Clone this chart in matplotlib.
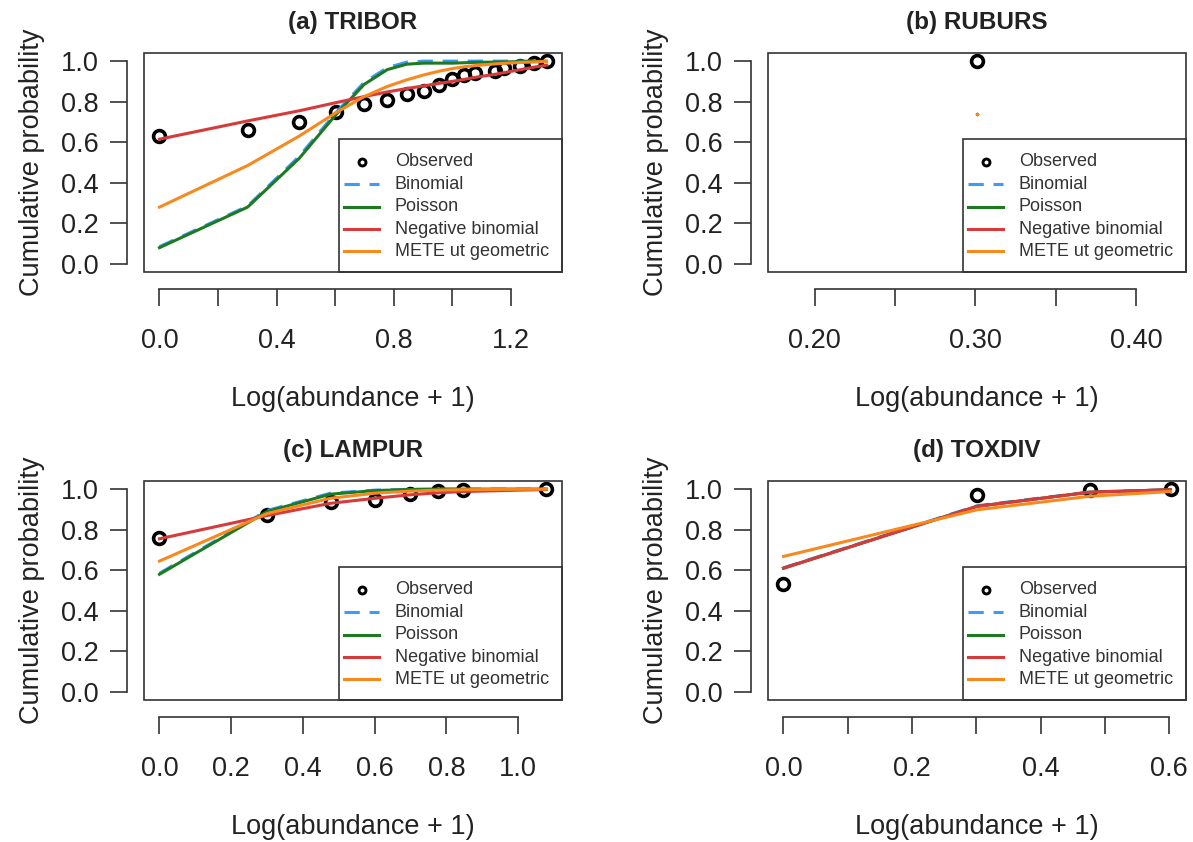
import matplotlib.pyplot as plt
from matplotlib.patches import Rectangle

plt.rcParams['font.family'] = ['Liberation Sans', 'DejaVu Sans']

# (a) TRIBOR
tribor_x = [0.000, 0.301, 0.477, 0.602, 0.699, 0.778, 0.845, 0.903, 0.954, 1.000,
            1.041, 1.079, 1.146, 1.176, 1.230, 1.279, 1.322]
tribor_obs = [0.63, 0.66, 0.70, 0.75, 0.79, 0.81, 0.84, 0.855, 0.88, 0.91,
              0.93, 0.94, 0.95, 0.965, 0.975, 0.99, 1.0]
tribor_binom = [0.085, 0.285, 0.53, 0.745, 0.895, 0.968, 0.995, 1.0, 1.0, 1.0,
                1.0, 1.0, 1.0, 1.0, 1.0, 1.0, 1.0]
tribor_pois = [0.08, 0.28, 0.52, 0.735, 0.885, 0.958, 0.985, 0.99, 0.99, 0.99,
               0.992, 0.994, 0.995, 0.996, 0.997, 0.998, 0.999]
tribor_nb = [0.615, 0.705, 0.755, 0.795, 0.825, 0.848, 0.865, 0.878, 0.89, 0.90,
             0.91, 0.92, 0.935, 0.943, 0.957, 0.97, 0.98]
tribor_mete = [0.28, 0.485, 0.63, 0.745, 0.825, 0.875, 0.908, 0.932, 0.95, 0.963,
               0.972, 0.978, 0.986, 0.989, 0.993, 0.996, 0.998]

# (b) RUBURS
ruburs_x = [0.301]
ruburs_obs = [1.0]
ruburs_binom = [0.74]
ruburs_pois = [0.74]
ruburs_nb = [0.74]
ruburs_mete = [0.74]

# (c) LAMPUR
lampur_x = [0.000, 0.301, 0.477, 0.602, 0.699, 0.778, 0.845, 1.079]
lampur_obs = [0.76, 0.87, 0.935, 0.945, 0.975, 0.99, 0.995, 1.0]
lampur_binom = [0.585, 0.895, 0.98, 0.995, 0.999, 1.0, 1.0, 1.0]
lampur_pois = [0.58, 0.89, 0.975, 0.993, 0.998, 1.0, 1.0, 1.0]
lampur_nb = [0.755, 0.87, 0.93, 0.955, 0.972, 0.982, 0.988, 0.998]
lampur_mete = [0.645, 0.88, 0.955, 0.98, 0.99, 0.995, 0.997, 1.0]

# (d) TOXDIV
toxdiv_x = [0.000, 0.301, 0.477, 0.602]
toxdiv_obs = [0.53, 0.97, 0.995, 1.0]
toxdiv_binom = [0.612, 0.918, 0.986, 0.997]
toxdiv_pois = [0.61, 0.915, 0.985, 0.997]
toxdiv_nb = [0.61, 0.915, 0.985, 0.997]
toxdiv_mete = [0.668, 0.898, 0.965, 0.988]

legend_labels = ['Observed', 'Binomial', 'Poisson', 'Negative binomial', 'METE ut geometric']
col_binom = '#3D9BF5'
col_pois = '#1E7A22'
col_nb = '#D63A3A'
col_mete = '#F7891E'
axcol = '#333333'

W, H = 1193, 842
fig = plt.figure(figsize=(W / 100, H / 100), dpi=100)

# axes boxes in pixels (left, top), all the same size
boxes = [(144, 53), (768, 53), (144, 481), (768, 481)]
bw, bh = 418, 219


def draw_legend(ax):
    # legend frame, pixel offsets from the box's bottom-left
    lx0, ltop = 195, 133
    def fx(px):
        return px / bw
    def fy(py):
        return (ltop - py) / bh
    ax.add_patch(Rectangle((fx(lx0), 0), fx(bw - lx0), fy(0), transform=ax.transAxes,
                           fill=False, ec=axcol, lw=1.2, clip_on=False, zorder=5))
    rows = [23, 45.3, 67.6, 90, 112.2]
    x1, x2, xt = lx0 + 5, lx0 + 40, lx0 + 56
    ax.plot([fx(lx0 + 23)], [fy(rows[0])], 'o', mfc='none', mec='black', ms=5, mew=2.1,
            transform=ax.transAxes, clip_on=False)
    specs = [(col_binom, (0, (5, 3.2))), (col_pois, '-'), (col_nb, '-'), (col_mete, '-')]
    for r, (c, ls) in zip(rows[1:], specs):
        ax.plot([fx(x1), fx(x2)], [fy(r), fy(r)], color=c, ls=ls, lw=2.2,
                transform=ax.transAxes, clip_on=False)
    for r, lab in zip(rows, legend_labels):
        ax.text(fx(xt), fy(r), lab, transform=ax.transAxes, fontsize=13,
                color='#333333', va='center', ha='left')


def draw_panel(box, title, x, obs, binom, pois, nb, mete, xlim, xticks, xticklabels):
    left, top = box
    ax = fig.add_axes([left / W, 1 - (top + bh) / H, bw / W, bh / H])
    ax.plot(x, obs, 'o', mfc='none', mec='black', ms=8.5, mew=2.6, zorder=2)
    if len(x) > 1:
        ax.plot(x, binom, color=col_binom, lw=2.2, dashes=(5, 3.2), zorder=3)
        ax.plot(x, pois, color=col_pois, lw=2.2, zorder=3)
        ax.plot(x, nb, color=col_nb, lw=2.2, zorder=3)
        ax.plot(x, mete, color=col_mete, lw=2.2, zorder=3)
    else:
        # one point only: the model curves collapse to a dot
        for vals, c in [(binom, col_binom), (pois, col_pois), (nb, col_nb), (mete, col_mete)]:
            ax.plot(x, vals, 'o', color=c, ms=2.4, mew=0, zorder=3)
    ax.set_xlim(*xlim)
    ax.set_ylim(-0.04, 1.04)
    ax.add_patch(Rectangle((0, 0), 1, 1, transform=ax.transAxes, fill=False,
                           ec=axcol, lw=1.2, clip_on=False, zorder=5))
    for s in ['top', 'right']:
        ax.spines[s].set_visible(False)
    for s in ['left', 'bottom']:
        ax.spines[s].set_position(('outward', 12.2))
        ax.spines[s].set_color(axcol)
        ax.spines[s].set_linewidth(1.2)
    ax.spines['left'].set_bounds(0, 1)
    ax.spines['bottom'].set_bounds(xticks[0], xticks[-1])
    ax.set_yticks([0, 0.2, 0.4, 0.6, 0.8, 1.0])
    ax.set_yticklabels(['0.0', '0.2', '0.4', '0.6', '0.8', '1.0'])
    ax.set_xticks(xticks)
    ax.set_xticklabels(xticklabels)
    ax.tick_params(direction='out', length=12.2, width=1.2, color=axcol,
                   labelsize=19.5, labelcolor='#222222')
    ax.tick_params(axis='y', pad=8.5)
    ax.tick_params(axis='x', pad=16)
    ax.set_xlabel('Log(abundance + 1)', fontsize=19.5, color='#222222', labelpad=23)
    ax.set_ylabel('Cumulative probability', fontsize=19.5, color='#222222', labelpad=11)
    ax.set_title(title, fontsize=17.5, fontweight='bold', color='#222222', pad=17)
    draw_legend(ax)
    return ax


draw_panel(boxes[0], '(a) TRIBOR', tribor_x, tribor_obs, tribor_binom, tribor_pois,
           tribor_nb, tribor_mete, (-0.0529, 1.3749),
           [0, 0.2, 0.4, 0.6, 0.8, 1.0, 1.2], ['0.0', '', '0.4', '', '0.8', '', '1.2'])
draw_panel(boxes[1], '(b) RUBURS', ruburs_x, ruburs_obs, ruburs_binom, ruburs_pois,
           ruburs_nb, ruburs_mete, (0.171, 0.431),
           [0.20, 0.25, 0.30, 0.35, 0.40], ['0.20', '', '0.30', '', '0.40'])
draw_panel(boxes[2], '(c) LAMPUR', lampur_x, lampur_obs, lampur_binom, lampur_pois,
           lampur_nb, lampur_mete, (-0.0432, 1.1224),
           [0, 0.2, 0.4, 0.6, 0.8, 1.0], ['0.0', '0.2', '0.4', '0.6', '0.8', '1.0'])
draw_panel(boxes[3], '(d) TOXDIV', toxdiv_x, toxdiv_obs, toxdiv_binom, toxdiv_pois,
           toxdiv_nb, toxdiv_mete, (-0.0241, 0.6261),
           [0, 0.1, 0.2, 0.3, 0.4, 0.5, 0.6], ['0.0', '', '0.2', '', '0.4', '', '0.6'])

fig.savefig('out.png', dpi=100)
